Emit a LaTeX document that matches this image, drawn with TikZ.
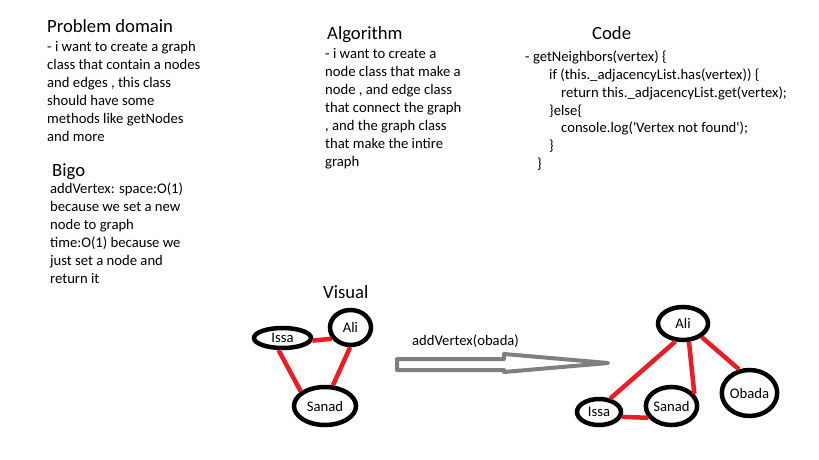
\documentclass[tikz,border=0pt]{standalone}
\usepackage{fontspec}
\setmainfont{Carlito}
\usetikzlibrary{shapes.geometric}
\definecolor{paintred}{HTML}{ED1C24}
\definecolor{arrowgray}{HTML}{7F7F7F}
\begin{document}
\begin{tikzpicture}[x=1pt,y=-1pt,
  body/.style={anchor=base west, inner sep=0pt, font=\fontsize{14.67}{18}\selectfont},
  codeb/.style={anchor=base west, inner sep=0pt, font=\fontsize{14.67}{17.7}\selectfont},
  head/.style={anchor=base west, inner sep=0pt, font=\fontsize{18.67}{22}\selectfont},
  vert/.style={ellipse, draw=black, line width=4.5pt, inner sep=0pt, font=\fontsize{14.67}{18}\selectfont},
  edge/.style={draw=paintred, line width=4.5pt},
  bigarrow/.style={draw=arrowgray, line width=4pt, line join=round}]
\useasboundingbox[fill=white] (0,0) rectangle (819,460);

% Problem domain
\node[head] (pdh) at (47,33) {Problem domain};
\node[body] (pdb) at (47,52) {\begin{tabular}[t]{@{}l@{}}
- i want to create a graph\\
class that contain a nodes\\
and edges , this class\\
should have some\\
methods like getNodes\\
and more\end{tabular}};

% Bigo
\node[head] (bgh) at (52,176) {Bigo};
\node[body] (bgb) at (50,193) {\begin{tabular}[t]{@{}l@{}}
addVertex: space:O(1)\\
because we set a new\\
node to graph\\
time:O(1) because we\\
just set a node and\\
return it\end{tabular}};

% Algorithm
\node[head] (alh) at (327,40) {Algorithm};
\node[body] (alb) at (325,59) {\begin{tabular}[t]{@{}l@{}}
- i want to create a\\
node class that make a\\
node , and edge class\\
that connect the graph\\
, and the graph class\\
that make the intire\\
graph\end{tabular}};

% Code
\node[head] (cdh) at (592,40) {Code};
\node[codeb] (cdb) at (525,62) {\begin{tabular}[t]{@{}l@{}}
- getNeighbors(vertex) \{\\
\hspace*{24pt}if (this.\_adjacencyList.has(vertex)) \{\\
\hspace*{36pt}return this.\_adjacencyList.get(vertex);\\
\hspace*{24pt}\}else\{\\
\hspace*{36pt}console.log(\textquotesingle Vertex not found\textquotesingle);\\
\hspace*{24pt}\}\\
\hspace*{12pt}\}\end{tabular}};

% Visual
\node[head] (vish) at (323,298) {Visual};

% left graph
\node[vert, minimum width=57pt, minimum height=20pt] (lissa) at (282.5,338) {Issa};
\node[vert, minimum width=41pt, minimum height=35pt] (lali) at (350.5,327.5) {Ali};
\node[vert, minimum width=62pt, minimum height=38pt] (lsanad) at (325,406) {Sanad};
\draw[edge] (lissa.-5) -- (lali.-149);
\draw[edge] (lissa.-108) -- (lsanad.149);
\draw[edge] (lali.-91) -- (lsanad.69);

% transition label and arrow
\node[body] (op) at (412,345) {addVertex(obada)};
\draw[bigarrow] (397,359) -- (504,359) -- (504,354) -- (608,363) -- (504,372) -- (504,370) -- (397,370) -- cycle;

% right graph
\node[vert, minimum width=50pt, minimum height=33pt] (rali) at (683,323.5) {Ali};
\node[vert, minimum width=44pt, minimum height=26pt] (rissa) at (599,412) {Issa};
\node[vert, minimum width=47pt, minimum height=38pt] (rsanad) at (671.5,406) {Sanad};
\node[vert, minimum width=51pt, minimum height=46pt] (robada) at (749.5,393) {Obada};
\draw[edge] (rali.-113) -- (rissa.50);
\draw[edge] (rali.-72) -- (rsanad.28);
\draw[edge] (rali.-36) -- (robada.114);
\draw[edge] (rissa.-12) -- (rsanad.-153);
\end{tikzpicture}
\end{document}
